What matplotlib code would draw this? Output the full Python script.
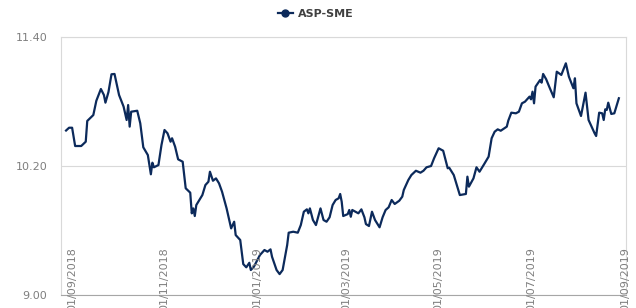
import matplotlib
matplotlib.use("Agg")
import matplotlib.pyplot as plt
import matplotlib.dates as mdates
import matplotlib.transforms as mtransforms
import pandas as pd

LINE_COLOR = "#0c2a5b"
GRID_COLOR = "#d9d9d9"
TEXT_COLOR = "#7f7f7f"

dates = [
    "2018-08-28", "2018-08-30", "2018-09-01", "2018-09-03", "2018-09-07", "2018-09-10",
    "2018-09-11", "2018-09-15", "2018-09-17", "2018-09-20", "2018-09-22", "2018-09-23",
    "2018-09-25", "2018-09-27", "2018-09-29", "2018-10-02", "2018-10-05", "2018-10-07",
    "2018-10-08", "2018-10-09", "2018-10-10", "2018-10-14", "2018-10-16", "2018-10-18",
    "2018-10-21", "2018-10-23", "2018-10-24", "2018-10-25", "2018-10-28", "2018-10-30",
    "2018-11-01", "2018-11-03", "2018-11-05", "2018-11-06", "2018-11-08", "2018-11-10",
    "2018-11-13", "2018-11-15", "2018-11-18", "2018-11-19", "2018-11-20", "2018-11-21",
    "2018-11-22", "2018-11-26", "2018-11-28", "2018-11-30", "2018-12-01", "2018-12-03",
    "2018-12-05", "2018-12-07", "2018-12-09", "2018-12-12", "2018-12-15", "2018-12-17",
    "2018-12-18", "2018-12-21", "2018-12-23", "2018-12-25", "2018-12-27", "2018-12-28",
    "2018-12-30", "2019-01-03", "2019-01-06", "2019-01-08", "2019-01-10", "2019-01-11",
    "2019-01-14", "2019-01-16", "2019-01-18", "2019-01-21", "2019-01-22", "2019-01-25",
    "2019-01-28", "2019-01-30", "2019-02-01", "2019-02-03", "2019-02-04", "2019-02-05",
    "2019-02-07", "2019-02-09", "2019-02-12", "2019-02-14", "2019-02-16", "2019-02-18",
    "2019-02-20", "2019-02-22", "2019-02-24", "2019-02-25", "2019-02-26", "2019-02-27",
    "2019-03-02", "2019-03-03", "2019-03-04", "2019-03-05", "2019-03-07", "2019-03-09",
    "2019-03-11", "2019-03-13", "2019-03-14", "2019-03-16", "2019-03-18", "2019-03-20",
    "2019-03-23", "2019-03-25", "2019-03-27", "2019-03-29", "2019-03-31", "2019-04-02",
    "2019-04-05", "2019-04-07", "2019-04-08", "2019-04-11", "2019-04-13", "2019-04-16",
    "2019-04-19", "2019-04-21", "2019-04-23", "2019-04-26", "2019-04-28", "2019-05-01",
    "2019-05-04", "2019-05-07", "2019-05-08", "2019-05-11", "2019-05-13", "2019-05-15",
    "2019-05-19", "2019-05-20", "2019-05-21", "2019-05-24", "2019-05-26", "2019-05-28",
    "2019-05-31", "2019-06-03", "2019-06-05", "2019-06-07", "2019-06-09", "2019-06-11",
    "2019-06-15", "2019-06-16", "2019-06-18", "2019-06-21", "2019-06-23", "2019-06-25",
    "2019-06-27", "2019-06-30", "2019-07-01", "2019-07-02", "2019-07-03", "2019-07-04",
    "2019-07-07", "2019-07-08", "2019-07-09", "2019-07-11", "2019-07-13", "2019-07-16",
    "2019-07-18", "2019-07-21", "2019-07-24", "2019-07-26", "2019-07-29", "2019-07-30",
    "2019-07-31", "2019-08-03", "2019-08-06", "2019-08-08", "2019-08-12", "2019-08-13",
    "2019-08-15", "2019-08-17", "2019-08-18", "2019-08-19", "2019-08-20", "2019-08-21",
    "2019-08-23", "2019-08-25", "2019-08-28",
]

values = [
    10.53, 10.556, 10.556, 10.386, 10.386, 10.426,
    10.619, 10.674, 10.807, 10.916, 10.860, 10.789,
    10.888, 11.053, 11.056, 10.860, 10.752, 10.628,
    10.767, 10.566, 10.705, 10.714, 10.597, 10.374,
    10.302, 10.123, 10.231, 10.188, 10.209, 10.395,
    10.535, 10.504, 10.426, 10.458, 10.380, 10.262,
    10.240, 9.993, 9.952, 9.760, 9.806, 9.735,
    9.837, 9.930, 10.023, 10.054, 10.147, 10.063,
    10.085, 10.039, 9.961, 9.806, 9.620, 9.682,
    9.558, 9.512, 9.288, 9.258, 9.300, 9.233,
    9.263, 9.372, 9.419, 9.403, 9.425, 9.356,
    9.233, 9.195, 9.233, 9.465, 9.580, 9.589,
    9.580, 9.651, 9.775, 9.797, 9.760, 9.806,
    9.698, 9.651, 9.806, 9.698, 9.682, 9.723,
    9.837, 9.884, 9.900, 9.940, 9.868, 9.735,
    9.753, 9.791, 9.728, 9.791, 9.775, 9.760,
    9.797, 9.723, 9.660, 9.642, 9.775, 9.698,
    9.630, 9.723, 9.791, 9.816, 9.884, 9.847,
    9.877, 9.915, 9.977, 10.070, 10.116, 10.156,
    10.138, 10.156, 10.188, 10.200, 10.272, 10.365,
    10.342, 10.179, 10.184, 10.116, 10.023, 9.930,
    9.940, 10.101, 10.008, 10.085, 10.188, 10.147,
    10.216, 10.287, 10.458, 10.519, 10.541, 10.528,
    10.566, 10.622, 10.696, 10.690, 10.705, 10.783,
    10.798, 10.845, 10.820, 10.891, 10.783, 10.938,
    11.000, 10.975, 11.056, 11.007, 10.938, 10.839,
    11.077, 11.047, 11.155, 11.031, 10.923, 11.016,
    10.783, 10.665, 10.882, 10.628, 10.504, 10.479,
    10.696, 10.690, 10.628, 10.727, 10.721, 10.789,
    10.684, 10.690, 10.830,
]

tick_dates = ["2018-09-01", "2018-11-01", "2019-01-01", "2019-03-01", "2019-05-01",
              "2019-07-01", "2019-09-01"]
tick_labels = ["01/09/2018", "01/11/2018", "01/01/2019", "01/03/2019", "01/05/2019",
               "01/07/2019", "01/09/2019"]
y_ticks = [9.00, 10.20, 11.40]


def main():
    x = pd.to_datetime(dates)

    fig = plt.figure(figsize=(6.36, 3.08), dpi=100)
    ax = fig.add_axes([0.096, 0.042, 0.888, 0.838])

    ax.plot(x, values, color=LINE_COLOR, linewidth=1.6, label="ASP-SME",
            marker="o", markevery=[], solid_joinstyle="round")

    start = mdates.date2num(pd.Timestamp("2018-09-01")) - 7.3
    end = mdates.date2num(pd.Timestamp("2019-09-01")) + 0.6
    ax.set_xlim(start, end)
    ax.set_ylim(9.0, 11.4)

    ax.set_yticks(y_ticks)
    ax.set_yticklabels([f"{v:.2f}" for v in y_ticks])
    ax.tick_params(axis="y", length=0, pad=10, labelsize=8, labelcolor=TEXT_COLOR)
    ax.set_xticks([])
    ax.grid(axis="y", color=GRID_COLOR, linewidth=0.8)
    ax.set_axisbelow(True)

    for side in ["left", "right", "top"]:
        ax.spines[side].set_color(GRID_COLOR)
        ax.spines[side].set_linewidth(0.8)
    ax.spines["bottom"].set_color("#a6a6a6")
    ax.spines["bottom"].set_linewidth(0.8)

    # rotated date labels sitting inside the plot, cut off at the bottom
    trans = mtransforms.blended_transform_factory(ax.transData, ax.transAxes)
    for d, lab in zip(tick_dates, tick_labels):
        ax.text(mdates.date2num(pd.Timestamp(d)), 0.186, lab, transform=trans,
                rotation=90, ha="center", va="top", fontsize=8,
                color=TEXT_COLOR, clip_on=False)

    handle = plt.Line2D([], [], color=LINE_COLOR, linewidth=1.6, marker="o",
                        markersize=5)
    leg = fig.legend([handle], ["ASP-SME"], loc="center", bbox_to_anchor=(0.497, 0.955),
                     frameon=False, handlelength=1.3, handletextpad=0.5,
                     prop={"size": 8, "weight": "bold"})
    for t in leg.get_texts():
        t.set_color("#404040")

    fig.savefig("out.png", dpi=100)


if __name__ == "__main__":
    main()
